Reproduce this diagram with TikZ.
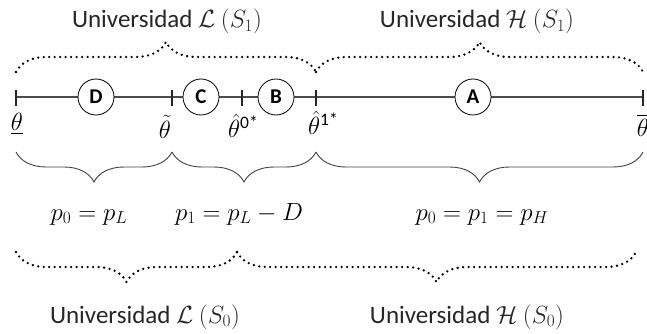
\documentclass[tikz,border=0pt]{standalone}
\usepackage{amsmath}
\usepackage{fontspec}
\setmainfont{Carlito}
\usetikzlibrary{decorations.pathreplacing}
\begin{document}
\begin{tikzpicture}[x=1pt,y=-1pt,
  axisline/.style={draw=black!70,line width=1.1pt},
  tickmark/.style={draw=black!85,line width=1.2pt},
  pt/.style={circle,draw=black,line width=0.8pt,fill=white,minimum size=36pt,inner sep=0pt,font=\fontsize{21}{23}\selectfont\bfseries},
  solidbrace/.style={draw=black!75,line width=0.9pt,decorate,decoration={brace,amplitude=30pt,mirror}},
  dotbrace/.style={draw=black,line width=2.6pt,line cap=round,dash pattern=on 0pt off 5.5pt,decorate,decoration={brace,amplitude=30pt}},
  dotbracem/.style={draw=black,line width=2.6pt,line cap=round,dash pattern=on 0pt off 5.5pt,decorate,decoration={brace,amplitude=30pt,mirror}},
  lab/.style={font=\fontsize{25}{28}\selectfont,inner sep=0pt,text=black!85,anchor=base},
  mlab/.style={font=\fontsize{25}{28}\selectfont,inner sep=0pt}
]
\useasboundingbox (0,0) rectangle (647,334);
% coordinates on axis
\coordinate (t0) at (16,97);
\coordinate (t1) at (172,97);
\coordinate (t2) at (242,97);
\coordinate (t3) at (316,97);
\coordinate (t4) at (643,97);
\draw[axisline] (t0) -- (t4);
\foreach \c in {t0,t1,t2,t3,t4}{\draw[tickmark] ([yshift=-9pt]\c) -- ([yshift=7pt]\c);}
\node[pt] (D) at (96,97) {D};
\node[pt] (C) at (201,97) {C};
\node[pt] (B) at (276,97) {B};
\node[pt] (A) at (473,97) {A};
% theta labels
\node[mlab] (l0) at (17,124) {$\underline{\theta}$};
\node[mlab] (l1) at (165,127) {$\tilde{\theta}$};
\node[mlab,anchor=west] (l2) at (228,126) {$\hat{\theta}^{\text{0*}}$};
\node[mlab,anchor=west] (l3) at (308,123) {$\hat{\theta}^{\text{1*}}$};
\node[mlab] (l4) at (643,125) {$\overline{\theta}$};
% top dotted braces
\coordinate (ta) at (16,72);
\coordinate (tb) at (316,72);
\coordinate (tc) at (643,72);
\draw[dotbrace] (ta) -- (tb);
\draw[dotbrace] (tb) -- (tc);
\node[lab] (U1) at (167,28) {Universidad $\mathcal{L}$ $(S_1)$};
\node[lab] (U2) at (477,28) {Universidad $\mathcal{H}$ $(S_1)$};
% solid braces
\coordinate (sa) at (16,152);
\coordinate (sb) at (172,152);
\coordinate (sc) at (316,152);
\coordinate (sd) at (643,152);
\draw[solidbrace] (sa) -- (sb);
\draw[solidbrace] (sb) -- (sc);
\draw[solidbrace] (sc) -- (sd);
\node[mlab,anchor=base] (p1) at (89,220) {$p_0=p_L$};
\node[mlab,anchor=base] (p2) at (239,220) {$p_1=p_L-D$};
\node[mlab,anchor=base] (p3) at (482,220) {$p_0=p_1=p_H$};
% bottom dotted braces
\coordinate (ba) at (16,252);
\coordinate (bb) at (237,252);
\coordinate (bc) at (636,252);
\draw[dotbracem] (ba) -- (bb);
\draw[dotbracem] (bb) -- (bc);
\node[lab] (U3) at (145,323) {Universidad $\mathcal{L}$ $(S_0)$};
\node[lab] (U4) at (467,323) {Universidad $\mathcal{H}$ $(S_0)$};
\end{tikzpicture}
\end{document}
